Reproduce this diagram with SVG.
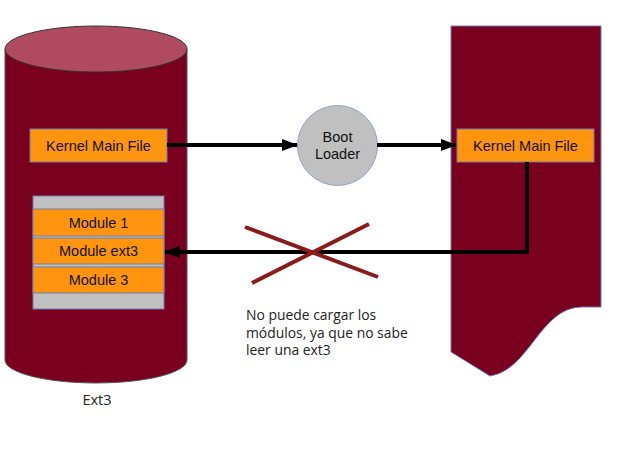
<svg xmlns="http://www.w3.org/2000/svg" width="640" height="453" viewBox="0 0 640 453">
<style>
.box{fill:#ff950e;stroke:#6f7fae;stroke-width:1}
.lbl{font-family:"Liberation Sans",Arial,sans-serif;font-size:14.5px;fill:#111;text-anchor:middle}
.note{font-family:"Open Sans","DejaVu Sans",sans-serif;font-size:13.9px;fill:#222}
.conn{stroke:#000;stroke-width:4;fill:none}
.x{stroke:#8b1a1a;stroke-width:4;fill:none}
</style>
<defs>
<marker id="ah" markerWidth="16" markerHeight="12" refX="15" refY="6" orient="auto" markerUnits="userSpaceOnUse">
<path d="M0,0 L16,6 L0,12 Z" fill="#000"/>
</marker>
</defs>
<rect width="640" height="453" fill="#fff"/>
<g id="ext3-disk">
<path d="M5,49 L5,360 A91,23 0 0 0 187,360 L187,49 Z" fill="#7a0020" stroke="#555" stroke-width="1"/>
<ellipse cx="96" cy="49" rx="91" ry="23" fill="#b04a60" stroke="#333" stroke-width="1"/>
<text x="97" y="405" class="note" style="text-anchor:middle;font-size:14.5px">Ext3</text>
</g>
<g id="memory">
<path d="M451,26 L601,26 L601,307 L582,307 C540,307 530,370 490,376 L451,352 Z" fill="#7a0020" stroke="#6f7fae" stroke-width="1"/>
</g>
<g id="kernel-left">
<rect class="box" x="30" y="129" width="137" height="33"/>
<text class="lbl" x="98.5" y="151">Kernel Main File</text>
</g>
<g id="modules">
<rect x="33" y="196" width="131" height="113" fill="#c0c0c0" stroke="#6f7fae" stroke-width="1"/>
<g id="module1">
<rect class="box" x="33" y="209" width="131" height="27"/>
<text class="lbl" x="98.5" y="228">Module 1</text>
</g>
<g id="module-ext3">
<rect class="box" x="33" y="238" width="131" height="26"/>
<text class="lbl" x="98.5" y="256">Module ext3</text>
</g>
<g id="module3">
<rect class="box" x="33" y="267" width="131" height="26"/>
<text class="lbl" x="98.5" y="285">Module 3</text>
</g>
</g>
<g id="boot-loader">
<circle cx="337.5" cy="145.5" r="40" fill="#c0c0c0" stroke="#8fa3c8" stroke-width="1"/>
<text class="lbl" x="337.5" y="142">Boot</text>
<text class="lbl" x="337.5" y="159">Loader</text>
</g>
<g id="kernel-right">
<rect class="box" x="457" y="129" width="137" height="33"/>
<text class="lbl" x="525.5" y="151">Kernel Main File</text>
</g>
<g id="connectors">
<line class="conn" x1="167" y1="145" x2="297" y2="145" marker-end="url(#ah)"/>
<line class="conn" x1="377" y1="145" x2="456" y2="145" marker-end="url(#ah)"/>
<polyline class="conn" points="527,162 527,252 165,252" marker-end="url(#ah)"/>
</g>
<g id="cross">
<line class="x" x1="245" y1="227" x2="378" y2="277"/>
<line class="x" x1="252" y1="283" x2="369" y2="224"/>
</g>
<g id="note">
<text class="note" x="246" y="320">No puede cargar los</text>
<text class="note" x="246" y="337.5">módulos, ya que no sabe</text>
<text class="note" x="246" y="355">leer una ext3</text>
</g>
</svg>
